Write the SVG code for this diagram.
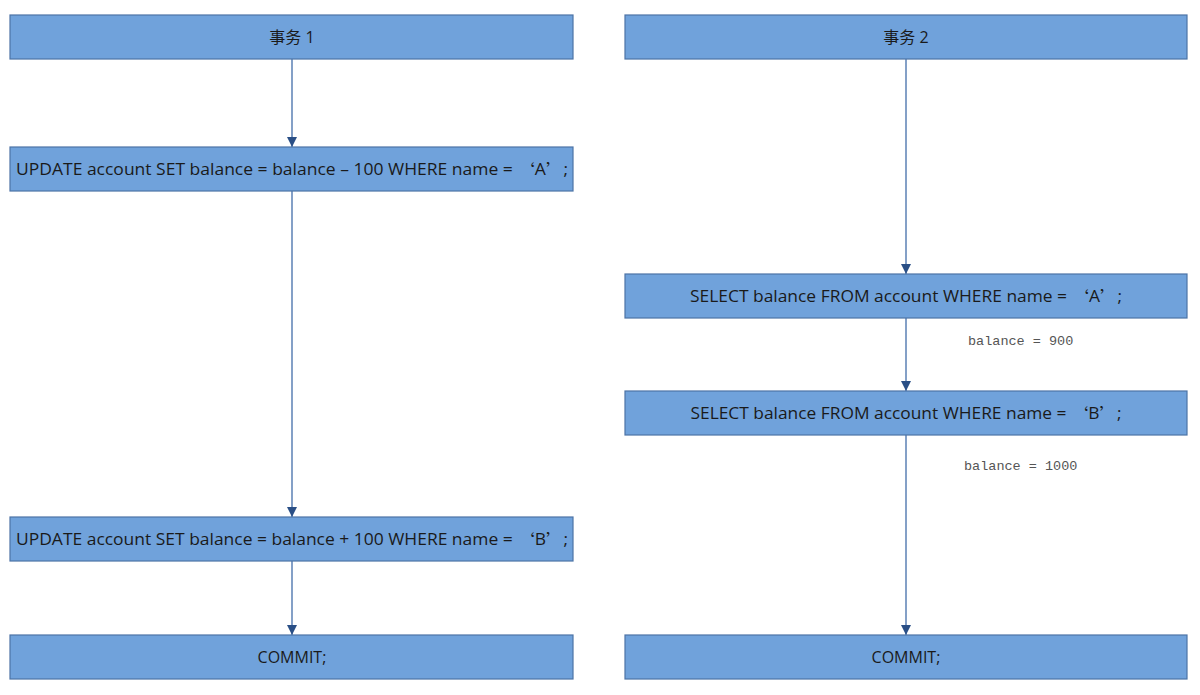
<svg xmlns="http://www.w3.org/2000/svg" width="1200" height="695" viewBox="0 0 1200 695">
<style>
.box{fill:#70a2db;stroke:#4c73a6;stroke-width:1.2}
.t{font-family:"Open Sans","Noto Sans","Noto Sans CJK SC",sans-serif;font-size:16px;fill:#1a1a1a;text-anchor:middle;dominant-baseline:central;white-space:pre}
.q{font-family:"Noto Sans CJK SC",sans-serif}
.lbl{font-family:"Liberation Mono","DejaVu Sans Mono",monospace;font-size:13.5px;fill:#555}
.c{stroke:#5b80b4;stroke-width:1.5;fill:none;marker-end:url(#ah)}
</style>
<defs>
<marker id="ah" viewBox="0 0 10 10" refX="10" refY="5" markerWidth="11" markerHeight="10" markerUnits="userSpaceOnUse" orient="auto">
<path d="M0,0 L10,5 L0,10 z" fill="#2a4f86"/>
</marker>
</defs>
<rect width="1200" height="695" fill="#fff"/>
<g id="connectors">
<line class="c" x1="292" y1="59" x2="292" y2="147"/>
<line class="c" x1="292" y1="191" x2="292" y2="517"/>
<line class="c" x1="292" y1="561" x2="292" y2="635"/>
<line class="c" x1="906" y1="59" x2="906" y2="274"/>
<line class="c" x1="906" y1="318" x2="906" y2="391"/>
<line class="c" x1="906" y1="435" x2="906" y2="635"/>
</g>
<g id="t1">
<rect class="box" x="10" y="15" width="563" height="44"/>
<text class="t" x="292" y="37">事务 1</text>
</g>
<g id="u1">
<rect class="box" x="10" y="147" width="563" height="44"/>
<text class="t" x="292" y="169" textLength="552" lengthAdjust="spacingAndGlyphs">UPDATE account SET balance = balance – 100 WHERE name = <tspan class="q">‘</tspan>A<tspan class="q">’</tspan>;</text>
</g>
<g id="u2">
<rect class="box" x="10" y="517" width="563" height="44"/>
<text class="t" x="292" y="539" textLength="552" lengthAdjust="spacingAndGlyphs">UPDATE account SET balance = balance + 100 WHERE name = <tspan class="q">‘</tspan>B<tspan class="q">’</tspan>;</text>
</g>
<g id="c1">
<rect class="box" x="10" y="635" width="563" height="44"/>
<text class="t" x="292" y="657">COMMIT;</text>
</g>
<g id="t2">
<rect class="box" x="625" y="15" width="562" height="44"/>
<text class="t" x="906" y="37">事务 2</text>
</g>
<g id="s1">
<rect class="box" x="625" y="274" width="562" height="44"/>
<text class="t" x="906" y="296" textLength="432" lengthAdjust="spacingAndGlyphs">SELECT balance FROM account WHERE name = <tspan class="q">‘</tspan>A<tspan class="q">’</tspan>;</text>
</g>
<g id="s2">
<rect class="box" x="625" y="391" width="562" height="44"/>
<text class="t" x="906" y="413" textLength="431" lengthAdjust="spacingAndGlyphs">SELECT balance FROM account WHERE name = <tspan class="q">‘</tspan>B<tspan class="q">’</tspan>;</text>
</g>
<g id="c2">
<rect class="box" x="625" y="635" width="562" height="44"/>
<text class="t" x="906" y="657">COMMIT;</text>
</g>
<g id="labels">
<text class="lbl" x="968" y="345">balance = 900</text>
<text class="lbl" x="964" y="470">balance = 1000</text>
</g>
</svg>
